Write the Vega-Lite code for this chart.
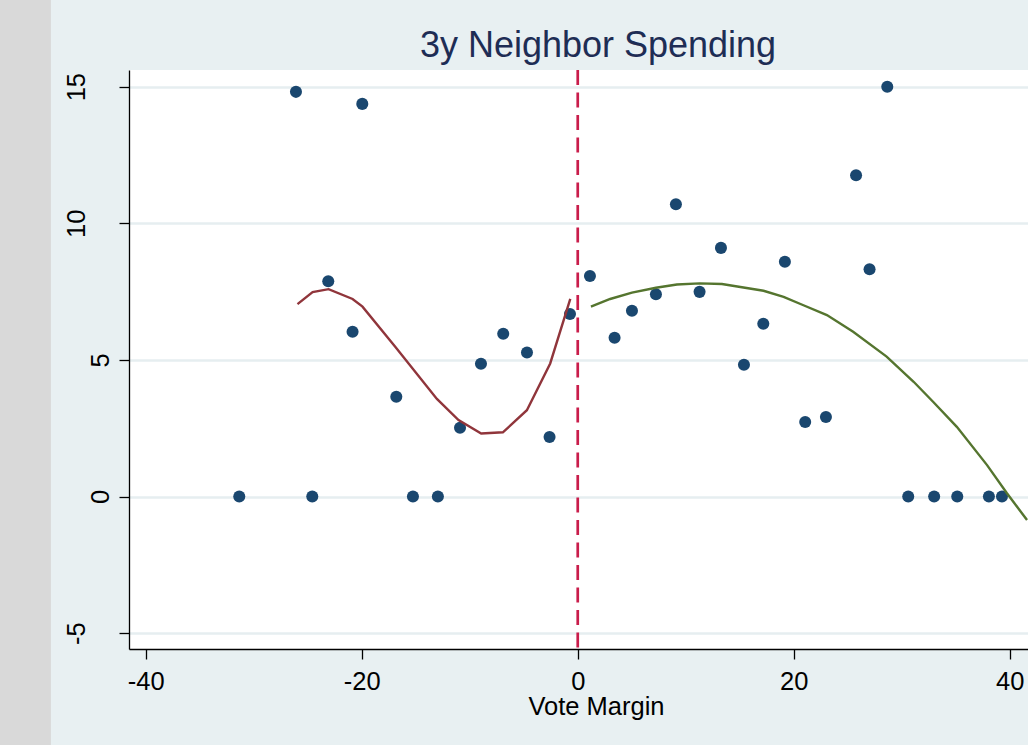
{
  "$schema": "https://vega.github.io/schema/vega-lite/v6.json",
  "autosize": {"type": "none"},
  "padding": {"left": 129, "top": 70, "right": 0, "bottom": 96},
  "width": 899,
  "height": 579,
  "background": "#e8f0f2",
  "config": {
    "view": {"fill": "white", "stroke": null},
    "font": "Liberation Sans"
  },
  "title": {
    "text": "3y Neighbor Spending",
    "fontSize": 36,
    "font": "Liberation Sans",
    "fontWeight": "normal",
    "color": "#1e2d55",
    "anchor": "middle",
    "frame": "group",
    "dx": 19.5,
    "dy": 93,
    "offset": 0,
    "baseline": "alphabetic"
  },
  "datasets": {
    "points": [
      {"margin": -31.34, "spending": 0},
      {"margin": -26.09, "spending": 14.81},
      {"margin": -24.58, "spending": 0},
      {"margin": -23.1, "spending": 7.88},
      {"margin": -20.85, "spending": 6.03},
      {"margin": -19.95, "spending": 14.37},
      {"margin": -16.8, "spending": 3.65},
      {"margin": -15.26, "spending": 0},
      {"margin": -12.95, "spending": 0},
      {"margin": -10.9, "spending": 2.52},
      {"margin": -8.96, "spending": 4.86},
      {"margin": -6.9, "spending": 5.96},
      {"margin": -4.7, "spending": 5.27},
      {"margin": -2.61, "spending": 2.18},
      {"margin": -0.72, "spending": 6.68},
      {"margin": 1.13, "spending": 8.07},
      {"margin": 3.41, "spending": 5.81},
      {"margin": 5.02, "spending": 6.8},
      {"margin": 7.24, "spending": 7.4},
      {"margin": 9.09, "spending": 10.7},
      {"margin": 11.28, "spending": 7.49},
      {"margin": 13.26, "spending": 9.1},
      {"margin": 15.39, "spending": 4.82},
      {"margin": 17.18, "spending": 6.32},
      {"margin": 19.18, "spending": 8.59},
      {"margin": 21.06, "spending": 2.73},
      {"margin": 22.98, "spending": 2.91},
      {"margin": 25.77, "spending": 11.76},
      {"margin": 27.02, "spending": 8.32},
      {"margin": 28.66, "spending": 15.0},
      {"margin": 30.6, "spending": 0},
      {"margin": 33.0, "spending": 0},
      {"margin": 35.14, "spending": 0},
      {"margin": 38.07, "spending": 0},
      {"margin": 39.28, "spending": 0}
    ],
    "fitLeft": [
      {"margin": -25.95, "fit": 7.04},
      {"margin": -24.55, "fit": 7.48},
      {"margin": -23.07, "fit": 7.59},
      {"margin": -20.85, "fit": 7.23},
      {"margin": -19.93, "fit": 6.95},
      {"margin": -16.9, "fit": 5.48},
      {"margin": -13.04, "fit": 3.57},
      {"margin": -11.04, "fit": 2.8},
      {"margin": -8.94, "fit": 2.31},
      {"margin": -6.93, "fit": 2.35},
      {"margin": -4.71, "fit": 3.16},
      {"margin": -2.55, "fit": 4.87},
      {"margin": -0.69, "fit": 7.23}
    ],
    "fitRight": [
      {"margin": 1.22, "fit": 6.95},
      {"margin": 3.0, "fit": 7.23},
      {"margin": 5.02, "fit": 7.46},
      {"margin": 7.24, "fit": 7.64},
      {"margin": 9.18, "fit": 7.76},
      {"margin": 11.28, "fit": 7.8},
      {"margin": 13.35, "fit": 7.78},
      {"margin": 17.2, "fit": 7.53},
      {"margin": 19.06, "fit": 7.31},
      {"margin": 20.9, "fit": 7.0},
      {"margin": 23.07, "fit": 6.64},
      {"margin": 25.5, "fit": 6.03},
      {"margin": 28.6, "fit": 5.12},
      {"margin": 31.1, "fit": 4.2},
      {"margin": 32.9, "fit": 3.47},
      {"margin": 35.1, "fit": 2.55},
      {"margin": 37.9, "fit": 1.15},
      {"margin": 39.74, "fit": 0.12},
      {"margin": 41.6, "fit": -0.86}
    ]
  },
  "layer": [
    {
      "data": {"values": [{}]},
      "mark": {"type": "rect", "color": "#d9d9d9", "clip": false},
      "encoding": {
        "x": {"datum": -53.5, "type": "quantitative"},
        "x2": {"datum": -48.78},
        "y": {"datum": 18.17, "type": "quantitative"},
        "y2": {"datum": -9.2}
      }
    },
    {
      "data": {"name": "points"},
      "mark": {"type": "circle", "color": "#1a476f", "opacity": 1, "size": 145, "clip": true},
      "encoding": {
        "x": {
          "field": "margin",
          "type": "quantitative",
          "scale": {"domain": [-41.55, 41.69], "nice": false, "zero": false},
          "axis": {
            "values": [-40, -20, 0, 20, 40],
            "labelExpr": "toString(datum.value)",
            "title": "Vote Margin",
            "grid": false,
            "domainColor": "black",
            "domainWidth": 1.3,
            "tickColor": "black",
            "tickSize": 10,
            "tickWidth": 1.3,
            "labelFontSize": 25.5,
            "labelColor": "black",
            "labelPadding": 10.5,
            "labelFlush": false,
            "labelOverlap": false,
            "titleFontSize": 25.5,
            "titleFontWeight": "normal",
            "titleColor": "black",
            "titleX": 467,
            "titleY": 65,
            "titleAlign": "center",
            "titleBaseline": "alphabetic"
          }
        },
        "y": {
          "field": "spending",
          "type": "quantitative",
          "scale": {"domain": [-5.58, 15.61], "nice": false, "zero": false},
          "axis": {
            "values": [-5, 0, 5, 10, 15],
            "labelExpr": "toString(datum.value)",
            "title": null,
            "grid": true,
            "gridColor": "#e6eef0",
            "gridWidth": 2.5,
            "domainColor": "black",
            "domainWidth": 1.3,
            "tickColor": "black",
            "tickSize": 10,
            "tickWidth": 1.3,
            "labelFontSize": 25.5,
            "labelColor": "black",
            "labelAngle": 270,
            "labelAlign": "center",
            "labelBaseline": "bottom",
            "labelPadding": {"condition": {"test": "datum.value >= 10 || datum.value < 0", "value": 30}, "value": 6},
            "labelFlush": false,
            "labelOverlap": false
          }
        }
      }
    },
    {
      "data": {"name": "fitLeft"},
      "mark": {"type": "line", "color": "#90353b", "strokeWidth": 2.4, "clip": true},
      "encoding": {
        "x": {"field": "margin", "type": "quantitative"},
        "y": {"field": "fit", "type": "quantitative"}
      }
    },
    {
      "data": {"name": "fitRight"},
      "mark": {"type": "line", "color": "#55752f", "strokeWidth": 2.4, "clip": true},
      "encoding": {
        "x": {"field": "margin", "type": "quantitative"},
        "y": {"field": "fit", "type": "quantitative"}
      }
    },
    {
      "data": {"values": [{}]},
      "mark": {"type": "rule", "color": "#c91d4b", "strokeWidth": 2.7, "strokeDash": [15, 7.5]},
      "encoding": {
        "x": {"datum": 0, "type": "quantitative"}
      }
    }
  ]
}
